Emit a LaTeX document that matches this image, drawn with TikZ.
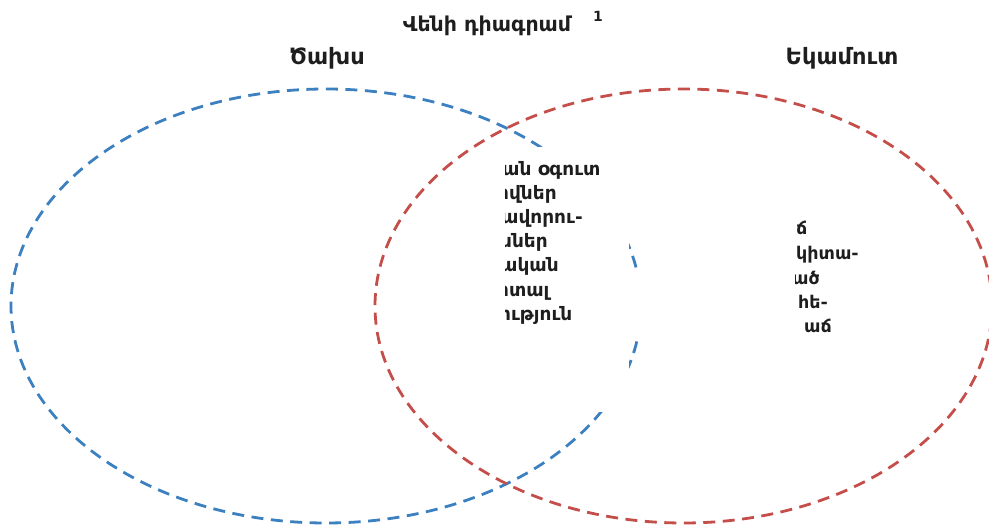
\documentclass[tikz,border=0pt]{standalone}
\usepackage{fontspec}
\setmainfont{DejaVu Sans}
\definecolor{vblue}{RGB}{60,128,192}
\definecolor{vred}{RGB}{196,78,74}
\definecolor{vtext}{RGB}{30,30,30}
\begin{document}
\begin{tikzpicture}[x=1pt,y=-1pt,
  vset/.style={line width=2.8pt,dash pattern=on 12pt off 7.5pt},
  head/.style={font=\fontsize{22.5}{26}\selectfont\bfseries,text=vtext,inner sep=0pt},
  body/.style={font=\fontsize{18.5}{22}\selectfont\bfseries,text=vtext,inner sep=0pt,anchor=mid west},
  rbody/.style={font=\fontsize{17.5}{21}\selectfont\bfseries,text=vtext,inner sep=0pt,anchor=mid west}]
\useasboundingbox (0,0) rectangle (989,526);
% sets
\draw[vset,vblue] (326,306) ellipse [x radius=315pt, y radius=217pt];
\draw[vset,vred] (683.5,306) ellipse [x radius=308.5pt, y radius=217pt];
% white panel over the overlap
\fill[white] (504,147) rectangle (629,412);
\fill[white] (628,273) rectangle (650,340);
% titles
\node[font=\fontsize{20.5}{24}\selectfont\bfseries,text=vtext,inner sep=0pt,anchor=base] (title) at (487,32) {Վենի դիագրամ};
\node[font=\fontsize{14}{16}\selectfont\bfseries,text=vtext,inner sep=0pt,anchor=base west] (sup) at (593,22) {1};
\node[head,anchor=base] (cost) at (327,65) {Ծախս};
\node[head,anchor=base] (income) at (842,65) {Եկամուտ};
% overlap text
\begin{scope}
\clip (505,150) rectangle (640,340);
\node[body] (m1) at (502,173) {ան օգուտ};
\node[body] (m2) at (497,197) {ովներ};
\node[body] (m3) at (501,221) {ավորու-};
\node[body] (m4) at (500,245) {ններ};
\node[body] (m5) at (500,269) {ական};
\node[body] (m6) at (497,294) {ոտալ};
\node[body] (m7) at (499,318) {ություն};
\end{scope}
% right text
\begin{scope}
\clip (795,215) rectangle (900,345);
\node[rbody] (r1) at (796,232) {ճ};
\node[rbody] (r2) at (796,257) {կիտա-};
\node[rbody] (r3) at (792,282) {ած};
\node[rbody] (r4) at (798,306) {հե-};
\node[rbody] (r5) at (804,330) {աճ};
\end{scope}
\end{tikzpicture}
\end{document}
